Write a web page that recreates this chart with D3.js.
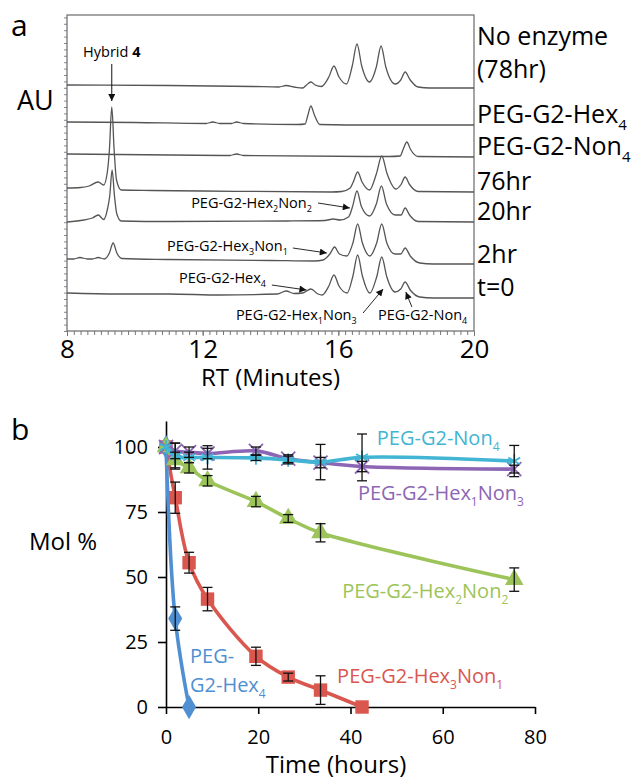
<!DOCTYPE html>
<meta charset="utf-8" />
<style>
    body { margin: 0; background: #fff; }
    text { font-family: "Open Sans", "Noto Sans", sans-serif; }
</style>
<title>HPLC traces and Mol % over time</title>
<body></body>
<script src="https://d3js.org/d3.v7.min.js"></script>
<script>

    // ---------- panel a: chromatogram traces ----------
    // each trace: [RT (minutes), signal above the trace offset (AU, arbitrary)]
    var traceNoEnzyme = [[8, 3], [11, 2.5], [13.5, 1.5], [14.25, 1], [14.46, 2.5], [14.7, 1], [14.95, 0],
        [15.06, 3], [15.19, 6], [15.32, 3], [15.5, 1.5], [15.72, 11], [15.87, 22], [16.02, 11], [16.24, 4],
        [16.41, 22], [16.55, 44], [16.69, 22], [16.92, 6], [17.12, 21], [17.26, 42], [17.40, 21], [17.68, 4],
        [17.84, 8], [17.97, 16], [18.12, 8], [18.35, 1], [18.7, 0], [20, 0]];
    var traceHex4 = [[8, 3], [10, 2.5], [12.1, 1.5], [12.3, 3], [12.5, 1.5], [12.85, 1.5], [13.0, 3], [13.2, 1.5],
        [14.8, 0.5], [15.02, 1], [15.1, 9.5], [15.19, 19], [15.30, 9.5], [15.45, 0.5], [17, 0], [20, 0]];
    var traceNon4 = [[8, 3], [12.8, 1.5], [13.0, 3], [13.2, 1.5], [17.5, 0.5], [17.82, 1], [17.91, 7.5],
        [18.02, 15], [18.13, 7.5], [18.35, 0.5], [20, 0]];
    var trace76hr = [[8, 4], [8.4, 4.5], [8.65, 6], [8.92, 10], [9.08, 7], [9.19, 20], [9.25, 42], [9.32, 85],
        [9.39, 42], [9.46, 12], [9.6, 2], [10.5, 1.5], [12, 1], [15.8, 0], [16.1, 0.5], [16.35, 4], [16.44, 10],
        [16.57, 20], [16.70, 10], [16.92, 2], [17.12, 18], [17.28, 36], [17.44, 18], [17.70, 3], [17.85, 7.5],
        [17.97, 15], [18.10, 7.5], [18.35, 0.5], [20, 0]];
    var trace20hr = [[8, 0], [8.5, 2], [8.75, 4], [8.92, 7], [9.08, 2.5], [9.2, 14], [9.26, 26], [9.33, 52],
        [9.40, 26], [9.47, 8], [9.6, 1], [11, 0.5], [14.5, 1], [15.6, 1.5], [15.85, 3], [16.05, 2], [16.3, 5],
        [16.42, 15.5], [16.55, 31], [16.68, 15.5], [16.92, 6], [17.12, 18], [17.27, 36], [17.42, 18], [17.68, 7],
        [17.85, 7], [17.97, 14], [18.10, 7], [18.35, 0.5], [20, 0]];
    var trace2hr = [[8, 6], [8.2, 6], [8.38, 7.5], [8.6, 6], [8.75, 6], [8.92, 7.5], [9.1, 6], [9.25, 12],
        [9.36, 22], [9.47, 12], [9.62, 6.5], [11, 5.5], [14, 4.5], [15.3, 4], [15.55, 5], [15.75, 11], [15.89, 18],
        [16.03, 11], [16.25, 9], [16.43, 22], [16.57, 41], [16.71, 22], [16.93, 9], [17.13, 22], [17.28, 41],
        [17.43, 22], [17.67, 11], [17.84, 11], [17.97, 17], [18.12, 9], [18.4, 2], [18.8, 1], [20, 1]];
    var traceT0 = [[8, 5], [9.5, 4], [11, 4], [12.5, 3], [14.2, 4], [14.46, 7], [14.7, 4.5], [14.95, 5],
        [15.19, 9], [15.4, 4], [15.52, 3], [15.72, 12], [15.87, 23], [16.02, 12], [16.26, 5], [16.43, 22],
        [16.57, 43], [16.71, 22], [16.93, 5], [17.13, 21], [17.28, 41], [17.43, 21], [17.67, 6], [17.84, 9],
        [17.97, 16], [18.12, 8], [18.4, 1], [18.8, 0], [20, 0]];

    var traces = [traceNoEnzyme, traceHex4, traceNon4, trace76hr, trace20hr, trace2hr, traceT0];
    var traceOffsets = [243, 206, 174, 139, 109, 66, 33];
    var traceLabels = [["No enzyme", "(78hr)"], ["PEG-G2-Hex_4"], ["PEG-G2-Non_4"], ["76hr"], ["20hr"], ["2hr"], ["t=0"]];
    var rtTicks = [8, 12, 16, 20];

    // peak annotations: text anchor and arrow (RT, AU)
    var peakNotes = [
        {text: "PEG-G2-Hex_2Non_2", at: [11.66, 123], from: [15.40, 128], to: [16.34, 123]},
        {text: "PEG-G2-Hex_3Non_1", at: [10.95, 80], from: [14.66, 83], to: [15.66, 78]},
        {text: "PEG-G2-Hex_4", at: [11.30, 48], from: [14.04, 46], to: [15.06, 41]},
        {text: "PEG-G2-Hex_1Non_3", at: [12.98, 11], from: [16.73, 18], to: [17.32, 42]},
        {text: "PEG-G2-Non_4", at: [17.17, 11], from: [18.17, 24], to: [17.99, 39]}
    ];

    // ---------- panel b: Mol % vs time ----------
    var hex4Time = [0, 2, 5];
    var hex4Mol = [100, 34, 0];
    var hex4Err = [0, 4.5, 0];

    var hex3non1Time = [0, 2, 5, 9, 19.5, 26.5, 33.5, 42.5];
    var hex3non1Mol = [100, 80.5, 55.5, 41.5, 19.5, 11.5, 6.5, 0];
    var hex3non1Err = [0, 6, 4, 4.5, 3.5, 1.5, 5.5, 0];

    var hex2non2Time = [0, 2, 5, 9, 19.5, 26.5, 33.5, 75.5];
    var hex2non2Mol = [100, 95, 92, 87, 79, 72.5, 67, 49];
    var hex2non2Err = [0, 3, 2, 2, 2, 1.5, 3.5, 4.5];

    var hex1non3Time = [0, 2, 5, 9, 19.5, 26.5, 33.5, 42.5, 75.5];
    var hex1non3Mol = [100, 98.5, 98, 97.5, 98.5, 95.5, 94, 92.5, 91.5];
    var hex1non3Err = [0, 3, 2, 2, 1.5, 1.5, 2, 2, 1.5];

    var non4Time = [0, 2, 5, 9, 19.5, 26.5, 33.5, 42.5, 75.5];
    var non4Mol = [100, 96.5, 96, 96, 95.8, 95, 94.2, 96, 94.6];
    var non4Err = [0, 5, 2, 4.5, 1, 1.5, 6.8, 9, 6];

    var timeTicks = [0, 20, 40, 60, 80];
    var molTicks = [0, 25, 50, 75, 100];

    var svgWidth = 634;
    var svgHeight = 779;

    var svg = d3.select("body")
        .append("svg")
        .attr("width", svgWidth)
        .attr("height", svgHeight);

    var defs = svg.append("defs");
    defs.append("marker")
        .attr("id", "arrow")
        .attr("viewBox", "0 0 10 10")
        .attr("refX", 10).attr("refY", 5)
        .attr("markerWidth", 9).attr("markerHeight", 7)
        .attr("markerUnits", "userSpaceOnUse")
        .attr("orient", "auto")
        .append("path")
        .attr("d", "M0,0L10,5L0,10z")
        .attr("fill", "#111");

    // text with "_n" subscripts (shift in px so it returns exactly)
    function subText(sel, str, size, subSize) {
        var shift = Math.round(size * 0.28);
        var parts = str.split(/_(\d)/);
        var afterSub = false;
        sel.attr("font-size", size);
        parts.forEach(function (p, i) {
            if (!p) return;
            if (i % 2 === 1) {
                sel.append("tspan").attr("font-size", subSize).attr("dy", shift).text(p);
                afterSub = true;
            } else {
                var t = sel.append("tspan").attr("font-size", size).text(p);
                if (afterSub) t.attr("dy", -shift);
                afterSub = false;
            }
        });
        return sel;
    }

    // ================= panel a =================
    var xA = d3.scaleLinear().domain([8, 20]).range([67, 474]);
    var yA = d3.scaleLinear().domain([0, 316]).range([331, 15]);

    var ga = svg.append("g").attr("class", "panel-a");

    ga.append("text").attr("x", 11).attr("y", 36).attr("font-size", 30).text("a");
    ga.append("text").attr("x", 17).attr("y", 110).attr("font-size", 27).text("AU");

    // minor ticks
    ga.append("g")
        .attr("transform", "translate(0,331)")
        .call(d3.axisBottom(xA).tickValues(d3.range(8, 20.01, 0.2)).tickSize(4).tickFormat(""))
        .call(function (g) { g.select(".domain").remove(); g.selectAll("line").attr("stroke", "#777"); });
    ga.append("g")
        .attr("transform", "translate(0,331)")
        .call(d3.axisBottom(xA).tickValues(rtTicks).tickSize(5).tickPadding(4).tickFormat(d3.format("d")))
        .call(function (g) {
            g.select(".domain").remove();
            g.selectAll("line").attr("stroke", "#777");
            g.selectAll("text").attr("font-size", 26).attr("fill", "#000")
                .style("font-family", "'Open Sans', sans-serif");
        });
    ga.append("g")
        .attr("transform", "translate(67,0)")
        .call(d3.axisLeft(yA).tickValues(d3.range(0, 316, 6.4)).tickSize(3).tickFormat(""))
        .call(function (g) { g.select(".domain").remove(); g.selectAll("line").attr("stroke", "#889"); });

    ga.append("rect")
        .attr("x", xA(8)).attr("y", yA(316))
        .attr("width", xA(20) - xA(8)).attr("height", yA(0) - yA(316))
        .attr("fill", "none").attr("stroke", "#6a6a6a").attr("stroke-width", 1.2);

    var traceLine = d3.line().curve(d3.curveMonotoneX);
    traces.forEach(function (tr, i) {
        ga.append("path")
            .attr("d", traceLine.x(function (d) { return xA(d[0]); })
                .y(function (d) { return yA(d[1] + traceOffsets[i]); })(tr))
            .attr("fill", "none")
            .attr("stroke", "#555")
            .attr("stroke-width", 1.3);
    });

    traceLabels.forEach(function (lab, i) {
        var base = yA(traceOffsets[i]);
        if (lab.length === 2) {
            ga.append("text").attr("x", 477).attr("y", 45).attr("font-size", 25).text(lab[0]);
            ga.append("text").attr("x", 477).attr("y", 78).attr("font-size", 25).text(lab[1]);
        } else {
            subText(ga.append("text").attr("x", 477).attr("y", base - 2), lab[0], 25, 15);
        }
    });

    ga.append("text")
        .attr("x", (xA(8) + xA(20)) / 2).attr("y", 386)
        .attr("text-anchor", "middle").attr("font-size", 24)
        .text("RT (Minutes)");

    // Hybrid 4 annotation
    var hyb = ga.append("text").attr("x", xA(9.32)).attr("y", yA(274))
        .attr("text-anchor", "middle").attr("font-size", 14.5);
    hyb.append("tspan").attr("font-size", 14.5).text("Hybrid ");
    hyb.append("tspan").attr("font-size", 14.5).attr("font-weight", "bold").text("4");
    ga.append("line")
        .attr("x1", xA(9.32)).attr("y1", yA(267)).attr("x2", xA(9.32)).attr("y2", yA(230))
        .attr("stroke", "#111").attr("stroke-width", 1).attr("marker-end", "url(#arrow)");

    peakNotes.forEach(function (n) {
        subText(ga.append("text").attr("x", xA(n.at[0])).attr("y", yA(n.at[1])), n.text, 14.5, 9);
        ga.append("line")
            .attr("x1", xA(n.from[0])).attr("y1", yA(n.from[1]))
            .attr("x2", xA(n.to[0])).attr("y2", yA(n.to[1]))
            .attr("stroke", "#111").attr("stroke-width", 0.9).attr("marker-end", "url(#arrow)");
    });

    // ================= panel b =================
    var xB = d3.scaleLinear().domain([0, 80]).range([166, 535]);
    var yB = d3.scaleLinear().domain([0, 110]).range([707, 421]);

    var gb = svg.append("g").attr("class", "panel-b");

    gb.append("text").attr("x", 11).attr("y", 440).attr("font-size", 30).text("b");
    gb.append("text").attr("x", 29).attr("y", 550).attr("font-size", 24).text("Mol %");

    gb.append("g")
        .attr("transform", "translate(0,707)")
        .call(d3.axisBottom(xB).tickValues(timeTicks).tickSize(7).tickSizeOuter(0).tickPadding(16))
        .call(function (g) {
            g.selectAll("line, path").attr("stroke", "#000").attr("stroke-width", 1.6);
            g.selectAll("text").attr("font-size", 20).attr("fill", "#000")
                .style("font-family", "'Open Sans', sans-serif");
        });
    gb.append("g")
        .attr("transform", "translate(166,0)")
        .call(d3.axisLeft(yB).tickValues(molTicks).tickSize(8).tickSizeOuter(0).tickPadding(10))
        .call(function (g) {
            g.selectAll("line, path").attr("stroke", "#000").attr("stroke-width", 1.6);
            g.selectAll("text").attr("font-size", 20).attr("fill", "#000")
                .style("font-family", "'Open Sans', sans-serif");
        });

    gb.append("text")
        .attr("x", 336).attr("y", 773)
        .attr("text-anchor", "middle").attr("font-size", 24)
        .text("Time (hours)");

    var series = [
        {t: hex3non1Time, v: hex3non1Mol, e: hex3non1Err, color: "#d9574f", sym: d3.symbolSquare, size: 180, fill: true},
        {t: hex4Time, v: hex4Mol, e: hex4Err, color: "#4f8fd2", sym: d3.symbolDiamond, size: 170, fill: true},
        {t: hex2non2Time, v: hex2non2Mol, e: hex2non2Err, color: "#9dc45a", sym: d3.symbolTriangle, size: 150, fill: true},
        {t: hex1non3Time, v: hex1non3Mol, e: hex1non3Err, color: "#8c66b4", sym: d3.symbolTimes, size: 130, fill: false},
        {t: non4Time, v: non4Mol, e: non4Err, color: "#41b5d3", sym: d3.symbolAsterisk, size: 130, fill: false}
    ];

    var molLine = d3.line()
        .curve(d3.curveCatmullRom.alpha(0.5))
        .x(function (d) { return xB(d[0]); })
        .y(function (d) { return yB(d[1]); });

    series.forEach(function (s) {
        var pts = s.t.map(function (t, i) { return [t, s.v[i], s.e[i]]; });
        var g = gb.append("g");
        g.append("path")
            .attr("d", molLine(pts))
            .attr("fill", "none")
            .attr("stroke", s.color)
            .attr("stroke-width", 3.6)
            .attr("stroke-linejoin", "round");
        g.selectAll(".mark")
            .data(pts)
            .enter().append("path")
            .attr("transform", function (d) { return "translate(" + xB(d[0]) + "," + yB(d[1]) + ")"; })
            .attr("d", d3.symbol().type(s.sym).size(s.size))
            .attr("fill", s.fill ? s.color : "none")
            .attr("stroke", s.color)
            .attr("stroke-width", s.fill ? 0 : 1.8);
        s.pts = pts;
    });

    // error bars on top
    series.forEach(function (s) {
        var bars = gb.append("g").selectAll("g")
            .data(s.pts.filter(function (d) { return d[2] > 0; }))
            .enter().append("g")
            .attr("stroke", "#111").attr("stroke-width", 1.3);
        bars.append("line")
            .attr("x1", function (d) { return xB(d[0]); }).attr("x2", function (d) { return xB(d[0]); })
            .attr("y1", function (d) { return yB(d[1] + d[2]); }).attr("y2", function (d) { return yB(d[1] - d[2]); });
        [1, -1].forEach(function (sgn) {
            bars.append("line")
                .attr("x1", function (d) { return xB(d[0]) - 5; }).attr("x2", function (d) { return xB(d[0]) + 5; })
                .attr("y1", function (d) { return yB(d[1] + sgn * d[2]); })
                .attr("y2", function (d) { return yB(d[1] + sgn * d[2]); });
        });
    });

    // series labels
    var seriesNotes = [
        {text: "PEG-G2-Non_4", at: [45.7, 100.8], color: "#41b5d3"},
        {text: "PEG-G2-Hex_1Non_3", at: [41.6, 79.6], color: "#8c66b4"},
        {text: "PEG-G2-Hex_2Non_2", at: [38.2, 41.9], color: "#9dc45a"},
        {text: "PEG-G2-Hex_3Non_1", at: [37.1, 9.2], color: "#d9574f"},
        {text: "PEG-", at: [5.2, 16.9], color: "#4f8fd2"},
        {text: "G2-Hex_4", at: [5.2, 5.8], color: "#4f8fd2"}
    ];
    seriesNotes.forEach(function (n) {
        subText(gb.append("text").attr("x", xB(n.at[0])).attr("y", yB(n.at[1]))
            .attr("fill", n.color), n.text, 20, 12);
    });

</script>
